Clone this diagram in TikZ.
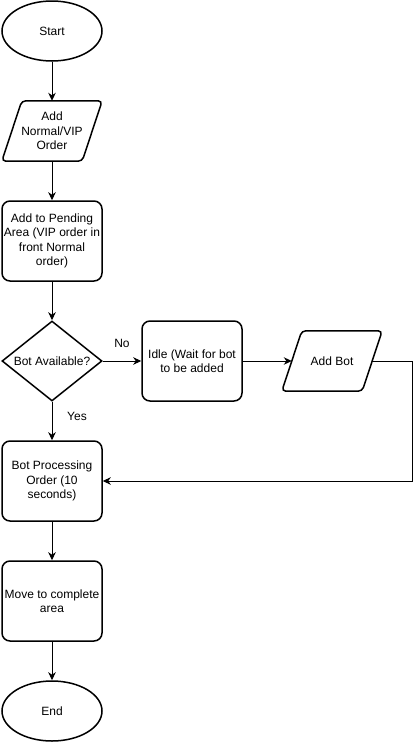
\documentclass[tikz,border=0pt]{standalone}
\usepackage{fontspec}
\setmainfont{Liberation Sans}
\usetikzlibrary{shapes.geometric,arrows.meta}
\begin{document}
\begin{tikzpicture}[x=1pt,y=-1pt,
  every node/.style={font=\fontsize{12}{14.4}\selectfont, align=center},
  shp/.style={draw, line width=1.5pt},
  term/.style={shp, ellipse, minimum width=100pt, minimum height=60pt, inner sep=0pt},
  proc/.style={shp, rectangle, rounded corners=8pt, minimum width=100pt, minimum height=80pt, inner sep=0pt},
  dec/.style={shp, diamond, aspect=1.25, minimum width=100pt, minimum height=80pt, inner sep=0pt},
  iobox/.style={minimum width=80pt, minimum height=60pt, inner sep=0pt},
  conn/.style={line width=1pt, -{Stealth[length=8pt,width=7.5pt,inset=2.5pt]}},
  lbl/.style={inner sep=0pt}
]
\useasboundingbox (0,0) rectangle (420,742);

\node[term] (start) at (52,31) {Start};
\node[iobox] (addorder) at (52,131) {Add\\Normal/VIP\\Order};
\draw[shp, rounded corners=4pt] ([xshift=-10pt]addorder.south west) -- ([xshift=10pt]addorder.north west) -- ([xshift=10pt]addorder.north east) -- ([xshift=-10pt]addorder.south east) -- cycle;
\node[proc] (pending) at (52,241) {Add to Pending\\Area (VIP order in\\front Normal\\order)};
\node[dec] (avail) at (52,361) {Bot Available?};
\node[proc] (idle) at (192,361) {Idle (Wait for bot\\to be added};
\node[iobox] (addbot) at (332,361) {Add Bot};
\draw[shp, rounded corners=4pt] ([xshift=-10pt]addbot.south west) -- ([xshift=10pt]addbot.north west) -- ([xshift=10pt]addbot.north east) -- ([xshift=-10pt]addbot.south east) -- cycle;
\node[proc] (botproc) at (52,481) {Bot Processing\\Order (10\\seconds)};
\node[proc] (move) at (52,601) {Move to complete\\area};
\node[term] (end) at (52,711) {End};

\node[lbl] (no) at (122,343) {No};
\node[lbl] (yes) at (77,416) {Yes};

\coordinate (corner) at (412,481);

\draw[conn] (start) -- (addorder);
\draw[conn] (addorder) -- (pending);
\draw[conn] (pending) -- (avail);
\draw[conn] (avail) -- (idle);
\draw[conn] (idle) -- (addbot);
\draw[conn] (avail) -- (botproc);
\draw[conn] (addbot.east) -| (corner) -- (botproc.east);
\draw[conn] (botproc) -- (move);
\draw[conn] (move) -- (end);
\end{tikzpicture}
\end{document}
